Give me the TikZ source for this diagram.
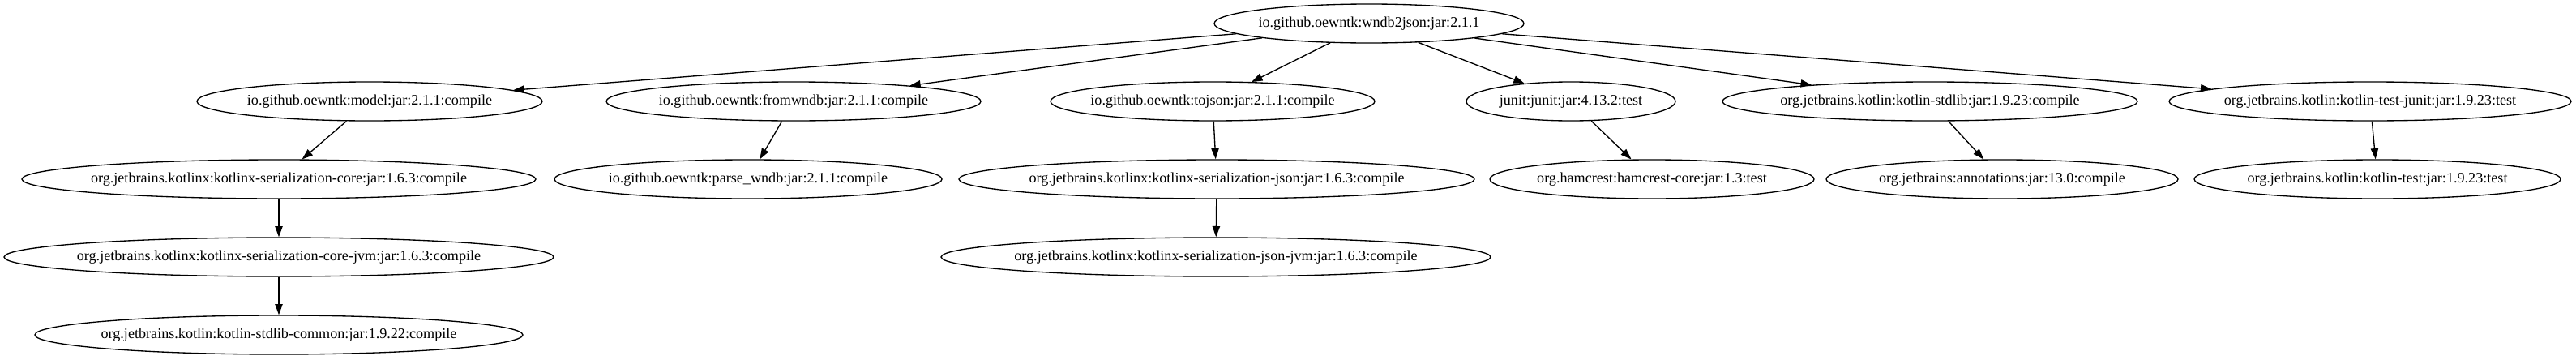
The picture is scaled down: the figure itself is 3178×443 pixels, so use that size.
\documentclass[tikz,border=0pt]{standalone}
\usepackage{fontspec}
\setmainfont{Liberation Serif}
\usetikzlibrary{shapes.geometric,arrows.meta}
\newcommand\deplabel[1]{\makebox[0pt][c]{#1}}
\begin{document}
\begin{tikzpicture}[x=0.75pt,y=-0.75pt,
  dep/.style={ellipse,draw,line width=1pt,inner sep=0pt,minimum height=36pt,
    font=\fontsize{13.6pt}{16pt}\selectfont},
  wid/.style={minimum width=#1*0.75pt},
  depedge/.style={draw,line width=1pt,-{Triangle[length=10pt,width=7pt]}}]
\fill[white] (0,0) rectangle (3178,443);
\useasboundingbox (0,0) rectangle (3178,443);
% rank 0
\node[dep,wid=382] (root) at (1689,29) {\deplabel{io.github.oewntk:wndb2json:jar:2.1.1}};
% rank 1
\node[dep,wid=426] (model) at (456,125) {\deplabel{io.github.oewntk:model:jar:2.1.1:compile}};
\node[dep,wid=462] (fromwndb) at (979,125) {\deplabel{io.github.oewntk:fromwndb:jar:2.1.1:compile}};
\node[dep,wid=400] (tojson) at (1496,125) {\deplabel{io.github.oewntk:tojson:jar:2.1.1:compile}};
\node[dep,wid=258] (junit) at (1938,125) {\deplabel{junit:junit:jar:4.13.2:test}};
\node[dep,wid=512] (stdlib) at (2381,125) {\deplabel{org.jetbrains.kotlin:kotlin-stdlib:jar:1.9.23:compile}};
\node[dep,wid=496] (testjunit) at (2924,125) {\deplabel{org.jetbrains.kotlin:kotlin-test-junit:jar:1.9.23:test}};
% rank 2
\node[dep,wid=634] (sercore) at (344,221) {\deplabel{org.jetbrains.kotlinx:kotlinx-serialization-core:jar:1.6.3:compile}};
\node[dep,wid=478] (parse) at (923,221) {\deplabel{io.github.oewntk:parse\_wndb:jar:2.1.1:compile}};
\node[dep,wid=636] (serjson) at (1501,221) {\deplabel{org.jetbrains.kotlinx:kotlinx-serialization-json:jar:1.6.3:compile}};
\node[dep,wid=400] (hamcrest) at (2038,221) {\deplabel{org.hamcrest:hamcrest-core:jar:1.3:test}};
\node[dep,wid=434] (annot) at (2470,221) {\deplabel{org.jetbrains:annotations:jar:13.0:compile}};
\node[dep,wid=452] (ktest) at (2933,221) {\deplabel{org.jetbrains.kotlin:kotlin-test:jar:1.9.23:test}};
% rank 3
\node[dep,wid=678] (corejvm) at (344,317) {\deplabel{org.jetbrains.kotlinx:kotlinx-serialization-core-jvm:jar:1.6.3:compile}};
\node[dep,wid=678] (jsonjvm) at (1500,317) {\deplabel{org.jetbrains.kotlinx:kotlinx-serialization-json-jvm:jar:1.6.3:compile}};
% rank 4
\node[dep,wid=602] (common) at (344,413) {\deplabel{org.jetbrains.kotlin:kotlin-stdlib-common:jar:1.9.22:compile}};
% edges
\path[depedge] (root) -- (model);
\path[depedge] (root) -- (fromwndb);
\path[depedge] (root) -- (tojson);
\path[depedge] (root) -- (junit);
\path[depedge] (root) -- (stdlib);
\path[depedge] (root) -- (testjunit);
\path[depedge] (model) -- (sercore);
\path[depedge] (sercore) -- (corejvm);
\path[depedge] (corejvm) -- (common);
\path[depedge] (fromwndb) -- (parse);
\path[depedge] (tojson) -- (serjson);
\path[depedge] (serjson) -- (jsonjvm);
\path[depedge] (junit) -- (hamcrest);
\path[depedge] (stdlib) -- (annot);
\path[depedge] (testjunit) -- (ktest);
\end{tikzpicture}
\end{document}
